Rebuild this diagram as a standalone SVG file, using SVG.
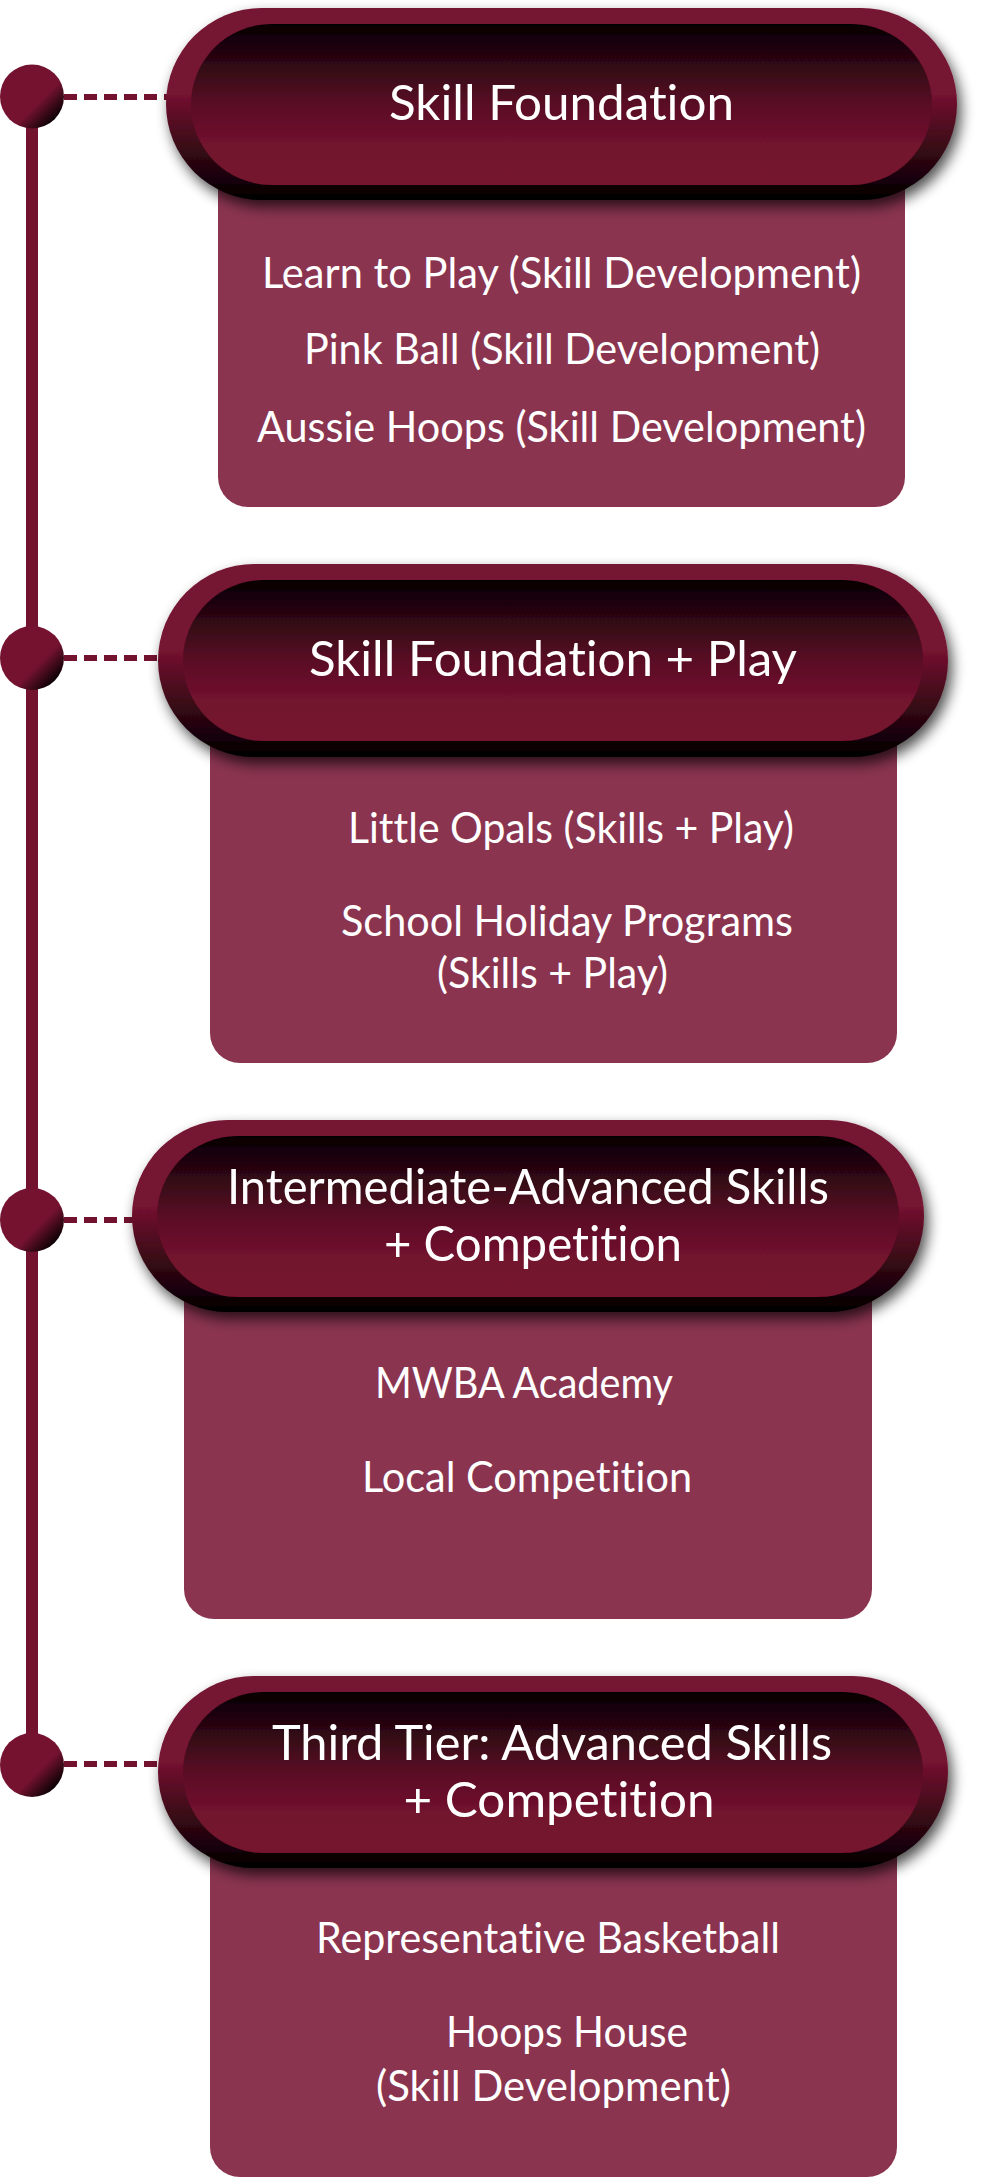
<svg xmlns="http://www.w3.org/2000/svg" width="996" height="2183" viewBox="0 0 996 2183">
  <style>
    .box { fill: #8A3450; }
    .ring { fill: url(#ringGrad); }
    .core { fill: url(#coreGrad); }
    .title { font-family: Lato, "Open Sans", "Liberation Sans", sans-serif; font-size: 49px; fill: #FFFFFF; text-anchor: middle; font-variant-ligatures: none; font-feature-settings: "liga" 0, "clig" 0; }
    .item { font-family: Lato, "Open Sans", "Liberation Sans", sans-serif; font-size: 43px; fill: #FFFFFF; text-anchor: middle; font-variant-ligatures: none; font-feature-settings: "liga" 0, "clig" 0; }
    .spine { stroke: #73122F; stroke-width: 12; fill: none; }
    .dash { stroke: #73122F; stroke-width: 6; stroke-dasharray: 13 7; fill: none; }
    .dot { fill: url(#dotGrad); }
  </style>
  <defs>
    <linearGradient id="ringGrad" x1="0" y1="0" x2="0" y2="1">
      <stop offset="0" stop-color="#741230"/>
      <stop offset="0.45" stop-color="#741230"/>
      <stop offset="0.8" stop-color="#2A0610"/>
      <stop offset="1" stop-color="#000000"/>
    </linearGradient>
    <linearGradient id="coreGrad" x1="0" y1="0" x2="0" y2="1">
      <stop offset="0" stop-color="#050002"/>
      <stop offset="0.5" stop-color="#5A0E25"/>
      <stop offset="0.75" stop-color="#72122F"/>
      <stop offset="1" stop-color="#74122F"/>
    </linearGradient>
    <linearGradient id="dotGrad" x1="0" y1="0" x2="1" y2="1">
      <stop offset="0" stop-color="#741230"/>
      <stop offset="0.6" stop-color="#741230"/>
      <stop offset="0.86" stop-color="#0A0104"/>
      <stop offset="1" stop-color="#000000"/>
    </linearGradient>
    <filter id="shadow" x="-10%" y="-30%" width="125%" height="170%">
      <feGaussianBlur in="SourceAlpha" stdDeviation="7"/>
      <feOffset dx="4" dy="7" result="blur"/>
      <feComponentTransfer>
        <feFuncA type="linear" slope="0.7"/>
      </feComponentTransfer>
      <feMerge>
        <feMergeNode/>
        <feMergeNode in="SourceGraphic"/>
      </feMerge>
    </filter>
  </defs>

  <rect width="996" height="2183" fill="#FFFFFF"/>

  <g id="connectors">
    <line class="spine" x1="32" y1="110" x2="32" y2="1750"/>
    <line class="dash" x1="64" y1="97" x2="168" y2="97"/>
    <line class="dash" x1="64" y1="658" x2="160" y2="658"/>
    <line class="dash" x1="64" y1="1220" x2="134" y2="1220"/>
    <line class="dash" x1="64" y1="1764" x2="160" y2="1764"/>
  </g>

  <g id="timeline-markers">
    <circle class="dot" cx="32" cy="96.5" r="32"/>
    <circle class="dot" cx="32" cy="658" r="32"/>
    <circle class="dot" cx="32" cy="1220" r="32"/>
    <circle class="dot" cx="32" cy="1765" r="32"/>
  </g>

  <g id="stage-1">
    <rect class="box" x="218" y="140" width="687" height="367" rx="30"/>
    <g filter="url(#shadow)">
      <rect class="ring" x="166" y="8" width="791" height="192" rx="96"/>
      <rect class="core" x="191" y="24" width="741" height="161" rx="80.5"/>
    </g>
    <text class="title" x="561.5" y="120" textLength="345" lengthAdjust="spacingAndGlyphs">Skill Foundation</text>
    <text class="item" x="561.5" y="287.5" textLength="599" lengthAdjust="spacingAndGlyphs">Learn to Play (Skill Development)</text>
    <text class="item" x="562" y="364" textLength="516" lengthAdjust="spacingAndGlyphs">Pink Ball (Skill Development)</text>
    <text class="item" x="561.5" y="442" textLength="609" lengthAdjust="spacingAndGlyphs">Aussie Hoops (Skill Development)</text>
  </g>

  <g id="stage-2">
    <rect class="box" x="210" y="700" width="687" height="363" rx="30"/>
    <g filter="url(#shadow)">
      <rect class="ring" x="158" y="564" width="790" height="193" rx="96.5"/>
      <rect class="core" x="183" y="580" width="740" height="161" rx="80.5"/>
    </g>
    <text class="title" x="553" y="676" textLength="488" lengthAdjust="spacingAndGlyphs">Skill Foundation + Play</text>
    <text class="item" x="571" y="843" textLength="446" lengthAdjust="spacingAndGlyphs">Little Opals (Skills + Play)</text>
    <text class="item"><tspan x="567" y="936" textLength="452" lengthAdjust="spacingAndGlyphs">School Holiday Programs</tspan><tspan x="552.5" y="988" textLength="231" lengthAdjust="spacingAndGlyphs">(Skills + Play)</tspan></text>
  </g>

  <g id="stage-3">
    <rect class="box" x="184" y="1256" width="688" height="363" rx="30"/>
    <g filter="url(#shadow)">
      <rect class="ring" x="132" y="1120" width="792" height="192" rx="96"/>
      <rect class="core" x="157" y="1136" width="742" height="161" rx="80.5"/>
    </g>
    <text class="title"><tspan x="528" y="1204" textLength="602" lengthAdjust="spacingAndGlyphs">Intermediate-Advanced Skills</tspan><tspan x="533" y="1261" textLength="298" lengthAdjust="spacingAndGlyphs">+ Competition</tspan></text>
    <text class="item" x="524" y="1398" textLength="298" lengthAdjust="spacingAndGlyphs">MWBA Academy</text>
    <text class="item" x="527" y="1492" textLength="330" lengthAdjust="spacingAndGlyphs">Local Competition</text>
  </g>

  <g id="stage-4">
    <rect class="box" x="210" y="1812" width="687" height="365" rx="30"/>
    <g filter="url(#shadow)">
      <rect class="ring" x="158" y="1676" width="790" height="192" rx="96"/>
      <rect class="core" x="183" y="1692" width="740" height="161" rx="80.5"/>
    </g>
    <text class="title"><tspan x="552" y="1760" textLength="560" lengthAdjust="spacingAndGlyphs">Third Tier: Advanced Skills</tspan><tspan x="559" y="1816.5" textLength="311" lengthAdjust="spacingAndGlyphs">+ Competition</tspan></text>
    <text class="item" x="548" y="1953" textLength="464" lengthAdjust="spacingAndGlyphs">Representative Basketball</text>
    <text class="item"><tspan x="567" y="2047" textLength="242" lengthAdjust="spacingAndGlyphs">Hoops House</tspan><tspan x="553.5" y="2100.5" textLength="355" lengthAdjust="spacingAndGlyphs">(Skill Development)</tspan></text>
  </g>
</svg>
